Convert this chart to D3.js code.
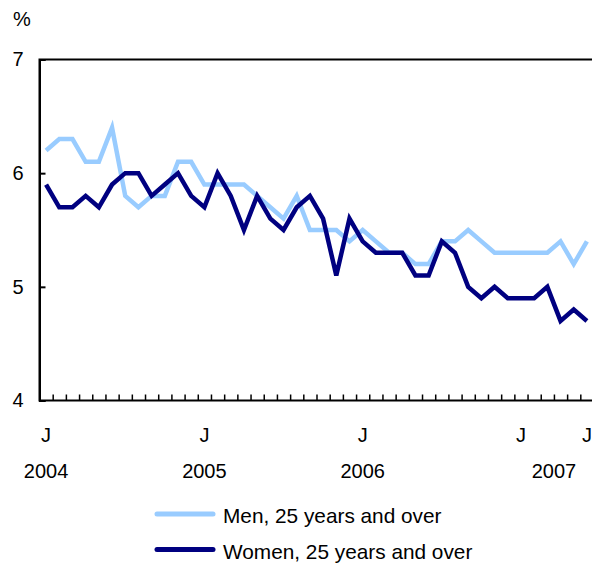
<!DOCTYPE html>
<html>
<head>
<meta charset="utf-8">
<script src="https://cdn.jsdelivr.net/npm/d3@7"></script>
<style>
  body { margin: 0; background: #fff; }
  svg text { font-family: "Liberation Sans", Arial, sans-serif; fill: #000; }
</style>
</head>
<body>
<svg id="chart"></svg>
<script>
(function () {
    'use strict';

    // monthly, Jan 2004 .. Jun 2007
    const months = d3.range(42).map(i => `${2004 + Math.floor(i / 12)}-${String(i % 12 + 1).padStart(2, '0')}`);

    const men = [
        6.2, 6.3, 6.3, 6.1, 6.1, 6.4, 5.8, 5.7, 5.8, 5.8, 6.1, 6.1,
        5.9, 5.9, 5.9, 5.9, 5.8, 5.7, 5.6, 5.8, 5.5, 5.5, 5.5, 5.4,
        5.5, 5.4, 5.3, 5.3, 5.2, 5.2, 5.4, 5.4, 5.5, 5.4, 5.3, 5.3,
        5.3, 5.3, 5.3, 5.4, 5.2, 5.4
    ];
    const women = [
        5.9, 5.7, 5.7, 5.8, 5.7, 5.9, 6.0, 6.0, 5.8, 5.9, 6.0, 5.8,
        5.7, 6.0, 5.8, 5.5, 5.8, 5.6, 5.5, 5.7, 5.8, 5.6, 5.1, 5.6,
        5.4, 5.3, 5.3, 5.3, 5.1, 5.1, 5.4, 5.3, 5.0, 4.9, 5.0, 4.9,
        4.9, 4.9, 5.0, 4.7, 4.8, 4.7
    ];

    const yTicks = [4, 5, 6, 7];
    const monthLabels = [['2004-01', 'J'], ['2005-01', 'J'], ['2006-01', 'J'], ['2007-01', 'J'], ['2007-06', 'J']];
    const yearLabels = [['2004', ['2004-01']], ['2005', ['2005-01']], ['2006', ['2006-01']], ['2007', ['2007-01', '2007-06']]];
    const seriesNames = ['Men, 25 years and over', 'Women, 25 years and over'];

    const width = 592;
    const height = 563;
    const margin = ({ top: 59.5, right: -1.5, bottom: 162.5, left: 39.5 });
    const colors = ['#99ccff', '#000080'];
    const fs = 20;

    const x = d3.scaleBand()
        .domain(months)
        .range([margin.left, width - margin.right]);

    const cx = m => x(m) + x.bandwidth() / 2;

    const y = d3.scaleLinear()
        .domain([4, 7])
        .range([height - margin.bottom, margin.top]);

    const svg = d3.select('#chart')
        .attr('width', width)
        .attr('height', height)
        .attr('viewBox', [0, 0, width, height]);

    // frame
    svg.append('rect')
        .attr('x', margin.left)
        .attr('y', margin.top)
        .attr('width', width - margin.right - margin.left)
        .attr('height', y(4) - margin.top)
        .attr('fill', 'none')
        .attr('stroke', '#000')
        .attr('stroke-width', 2);

    // month boundary ticks
    const xb = d3.scaleLinear().domain([0, months.length]).range(x.range());
    svg.append('g')
        .attr('transform', `translate(0,${y(4)})`)
        .call(d3.axisBottom(xb).tickValues(d3.range(1, months.length)).tickSize(-6).tickFormat(''))
        .call(g => g.select('.domain').remove())
        .call(g => g.selectAll('line').attr('stroke-width', 1.5));

    // y axis
    svg.append('g')
        .attr('transform', `translate(${margin.left},0)`)
        .call(d3.axisLeft(y).tickValues(yTicks).tickSize(-6).tickPadding(16).tickFormat(d3.format('d')))
        .call(g => g.select('.domain').attr('stroke-width', 2))
        .call(g => g.selectAll('line').attr('stroke-width', 2))
        .call(g => g.selectAll('text').attr('font-size', fs).style('font-family', '"Liberation Sans", Arial, sans-serif'));

    svg.append('text')
        .attr('x', 13)
        .attr('y', 26)
        .attr('font-size', fs)
        .text('%');

    // month letters
    svg.append('g').selectAll('text')
        .data(monthLabels)
        .join('text')
        .attr('x', d => cx(d[0]))
        .attr('y', 442)
        .attr('text-anchor', 'middle')
        .attr('font-size', fs)
        .text(d => d[1]);

    // years
    svg.append('g').selectAll('text')
        .data(yearLabels)
        .join('text')
        .attr('x', d => d3.mean(d[1], cx))
        .attr('y', 478)
        .attr('text-anchor', 'middle')
        .attr('font-size', fs)
        .text(d => d[0]);

    const line = d3.line()
        .x((d, i) => cx(months[i]))
        .y(d => y(d));

    svg.append('g').selectAll('path')
        .data([men, women])
        .join('path')
        .attr('d', line)
        .attr('fill', 'none')
        .attr('stroke', (d, i) => colors[i])
        .attr('stroke-width', 4.5)
        .attr('stroke-linejoin', 'miter');

    // legend
    const legend = svg.append('g').selectAll('g')
        .data(seriesNames)
        .join('g')
        .attr('transform', (d, i) => `translate(157,${514 + i * 35.5})`);

    legend.append('line')
        .attr('x1', 0)
        .attr('x2', 56)
        .attr('stroke', (d, i) => colors[i])
        .attr('stroke-width', 5)
        .attr('stroke-linecap', 'round');

    legend.append('text')
        .attr('x', 66)
        .attr('y', 9)
        .attr('font-size', 20.8)
        .text(d => d);
})();
</script>
</body>
</html>
